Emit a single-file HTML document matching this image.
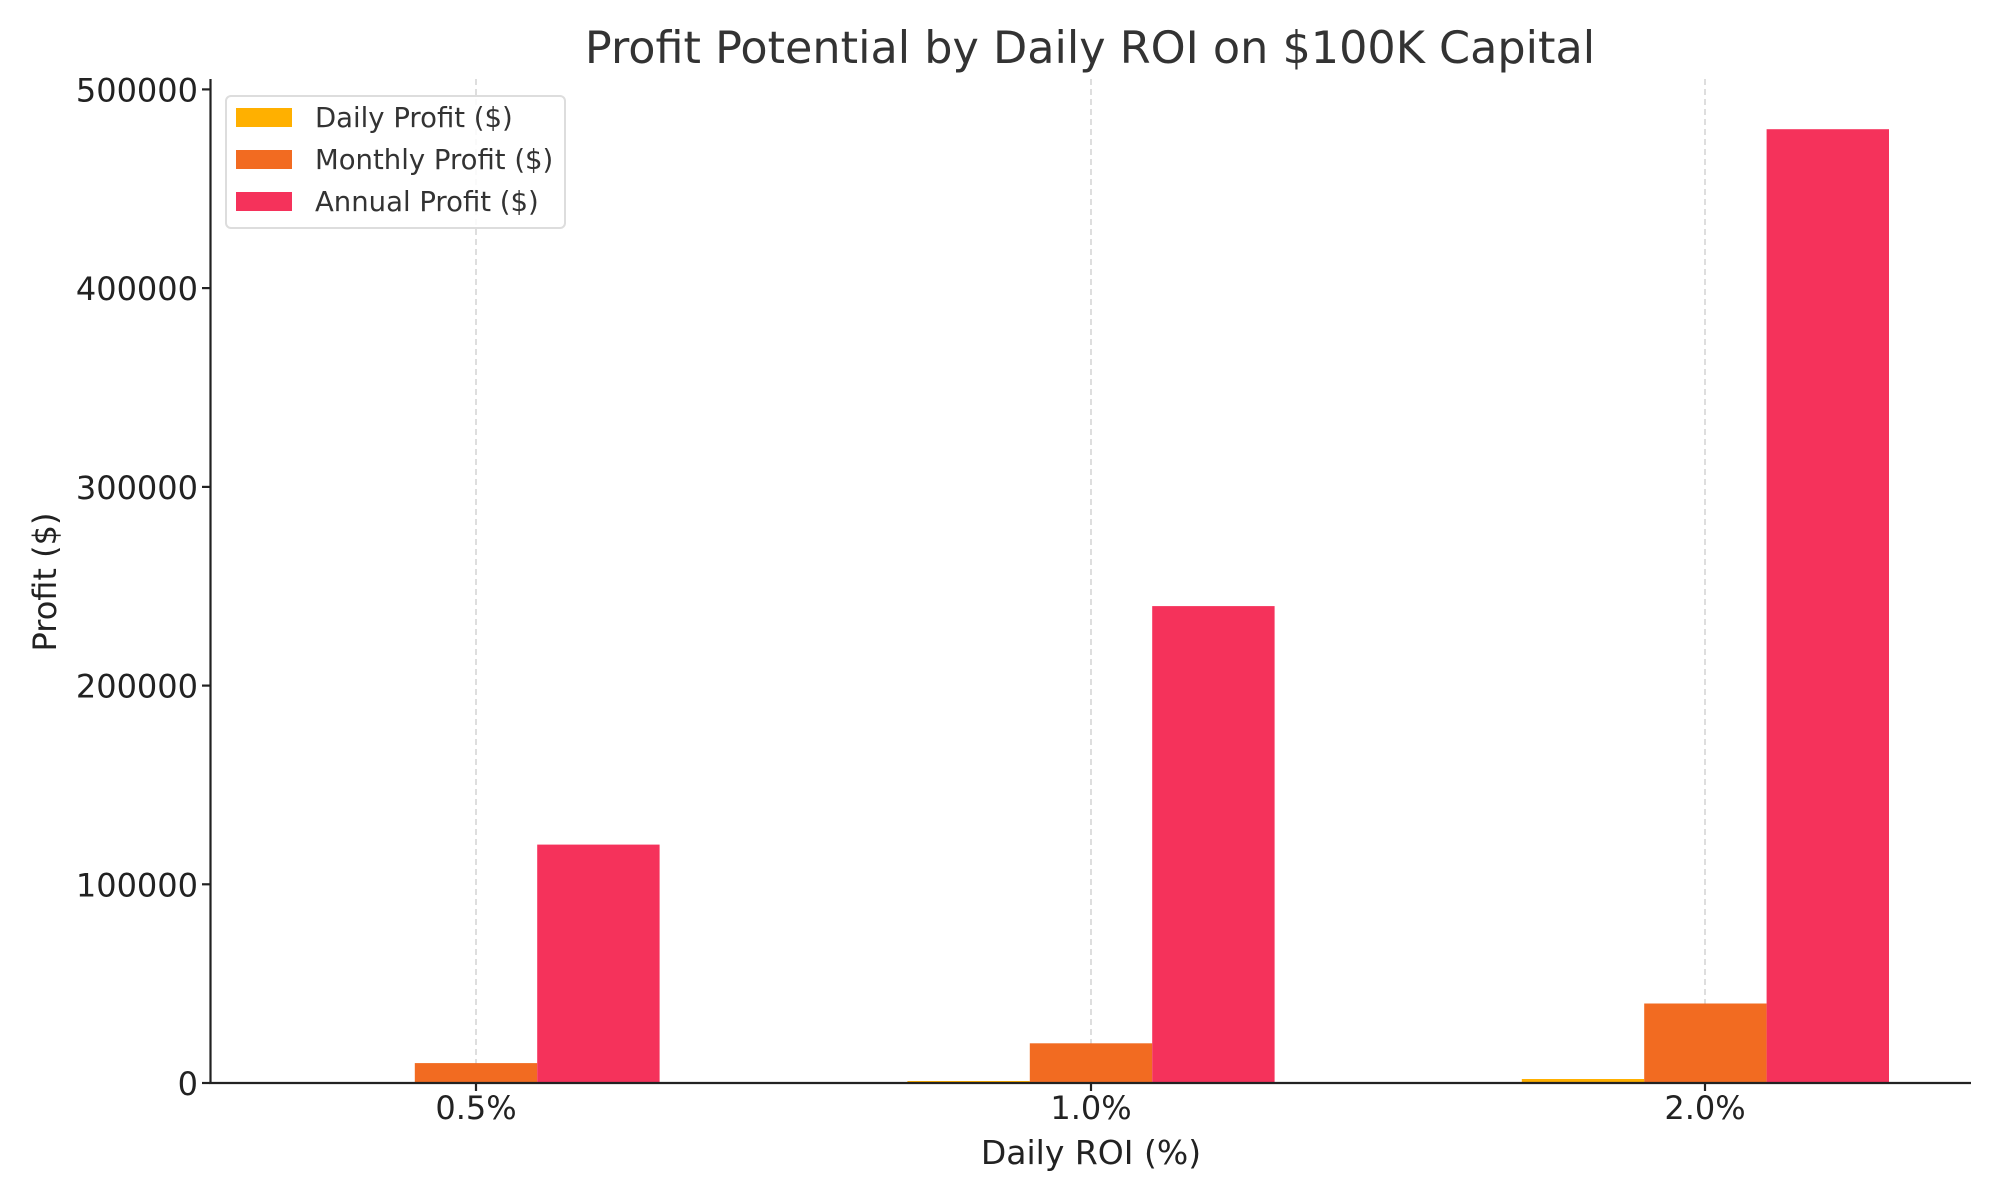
<!DOCTYPE html>
<html><head><meta charset="utf-8"><style>
html,body{margin:0;padding:0;background:#fff;}
svg{display:block;font-family:"DejaVu Sans","Liberation Sans",sans-serif;}
</style></head><body>
<svg width="2000" height="1200" viewBox="0 0 2000 1200">
<rect width="2000" height="1200" fill="#fff"/>
<text x="1090" y="63" font-size="44.5" fill="#333" text-anchor="middle">Profit Potential by Daily ROI on $100K Capital</text>
<g stroke="#ccc" stroke-width="1.3" stroke-dasharray="6,4">
<line x1="476" y1="79" x2="476" y2="1083"/>
<line x1="1091" y1="79" x2="1091" y2="1083"/>
<line x1="1705" y1="79" x2="1705" y2="1083"/>
</g>
<g>
<rect x="292.4" y="1082" width="122.4" height="1" fill="#FFB000"/>
<rect x="414.8" y="1063.1" width="122.4" height="19.9" fill="#F26B21"/>
<rect x="537.2" y="844.6" width="122.4" height="238.4" fill="#F5325B"/>
<rect x="907.4" y="1081" width="122.4" height="2" fill="#FFB000"/>
<rect x="1029.8" y="1043.3" width="122.4" height="39.7" fill="#F26B21"/>
<rect x="1152.2" y="606.1" width="122.4" height="476.9" fill="#F5325B"/>
<rect x="1521.8" y="1079" width="122.4" height="4" fill="#FFB000"/>
<rect x="1644.2" y="1003.5" width="122.4" height="79.5" fill="#F26B21"/>
<rect x="1766.6" y="129.2" width="122.4" height="953.8" fill="#F5325B"/>
</g>
<g stroke="#222" stroke-width="2.2">
<line x1="210.5" y1="79" x2="210.5" y2="1084"/>
<line x1="209.5" y1="1083" x2="1971" y2="1083"/>
<line x1="476" y1="1083" x2="476" y2="1091"/>
<line x1="1091" y1="1083" x2="1091" y2="1091"/>
<line x1="1705" y1="1083" x2="1705" y2="1091"/>
<line x1="202" y1="1083" x2="210" y2="1083"/>
<line x1="202" y1="884.3" x2="210" y2="884.3"/>
<line x1="202" y1="685.6" x2="210" y2="685.6"/>
<line x1="202" y1="486.9" x2="210" y2="486.9"/>
<line x1="202" y1="288.1" x2="210" y2="288.1"/>
<line x1="202" y1="89.4" x2="210" y2="89.4"/>
</g>
<g font-size="32" fill="#222" text-anchor="end">
<text x="198" y="1095">0</text>
<text x="198" y="896.3">100000</text>
<text x="198" y="697.6">200000</text>
<text x="198" y="498.9">300000</text>
<text x="198" y="300.1">400000</text>
<text x="198" y="101.4">500000</text>
</g>
<g font-size="32" fill="#222" text-anchor="middle">
<text x="476" y="1119">0.5%</text>
<text x="1091" y="1119">1.0%</text>
<text x="1705" y="1119">2.0%</text>
<text x="1091" y="1164" font-size="33">Daily ROI (%)</text>
</g>
<text transform="translate(56,582) rotate(-90)" font-size="32" fill="#222" text-anchor="middle">Profit ($)</text>
<rect x="226" y="96" width="339" height="132" rx="5" fill="#fff" fill-opacity="0.85" stroke="#ddd" stroke-width="2"/>
<rect x="236" y="108" width="56" height="19" fill="#FFB000"/>
<rect x="236" y="150" width="56" height="19" fill="#F26B21"/>
<rect x="236" y="192" width="56" height="19" fill="#F5325B"/>
<g font-size="27.5" fill="#333">
<text x="315" y="127">Daily Profit ($)</text>
<text x="315" y="169">Monthly Profit ($)</text>
<text x="315" y="211">Annual Profit ($)</text>
</g>
</svg>
</body></html>
